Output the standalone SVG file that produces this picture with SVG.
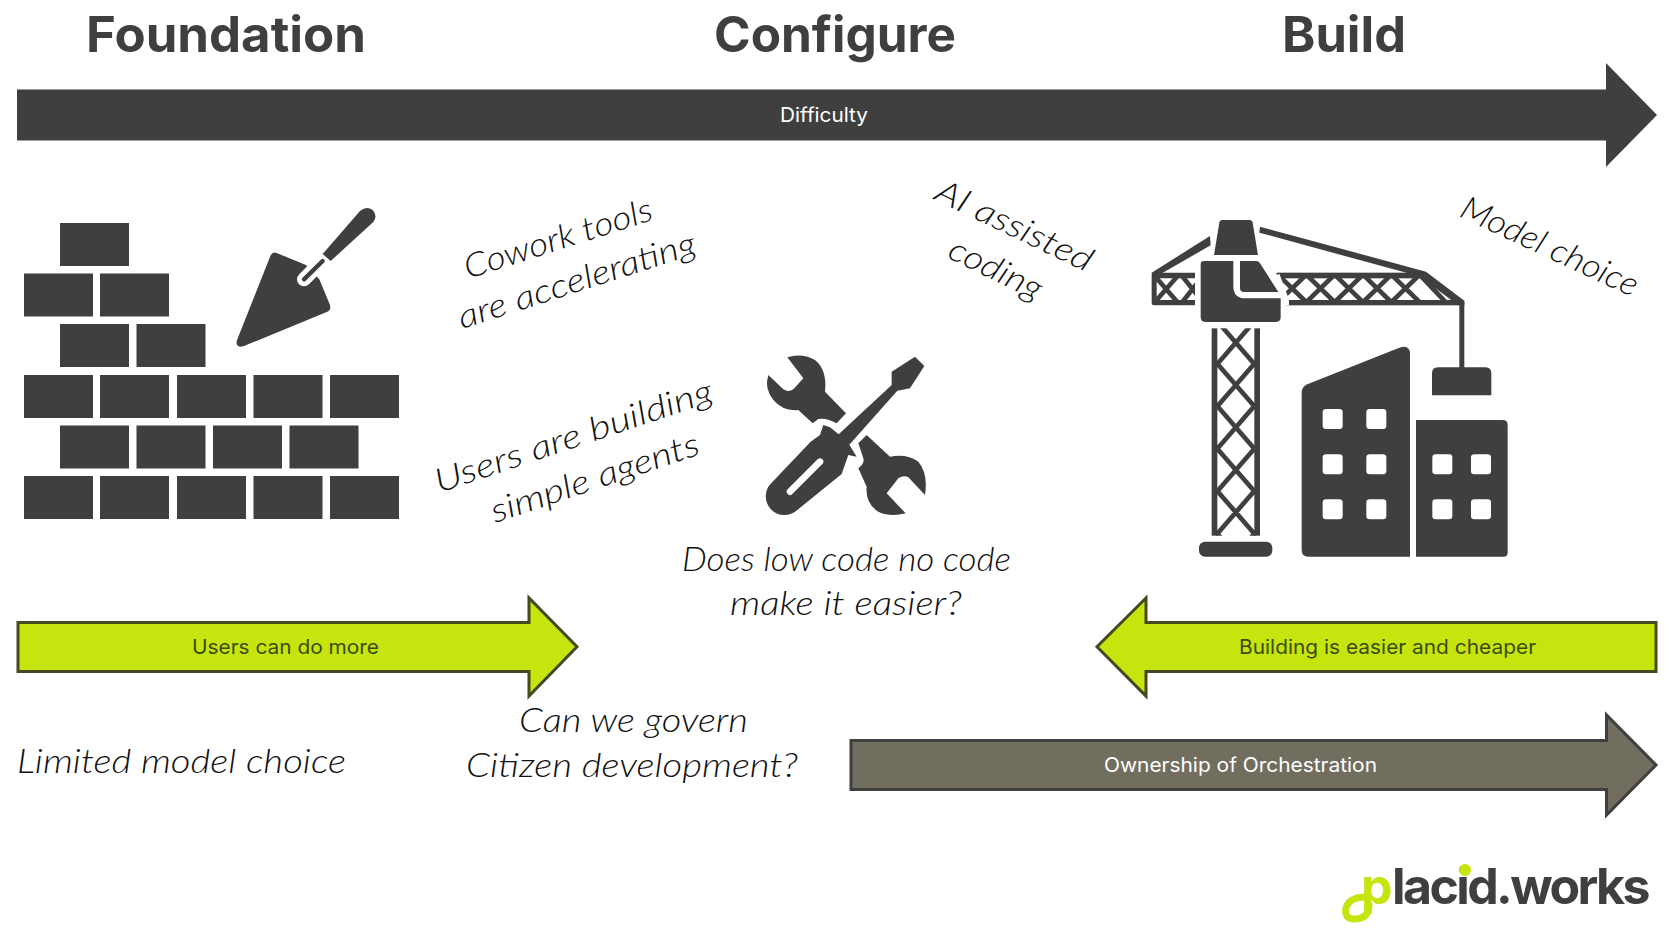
<svg xmlns="http://www.w3.org/2000/svg" width="1677" height="946" viewBox="0 0 1677 946">
<style>
.d{fill:#3f3f3f}
.w{fill:#fff}
.title{font-family:"Inter","Liberation Sans",sans-serif;font-weight:700;font-size:49px;fill:#3f3f3f}
.lab{font-family:"Inter","Liberation Sans",sans-serif;font-size:20px}
.hand{font-family:"Lato","Noto Sans",cursive;font-style:italic;font-weight:300;font-size:33px;fill:#111}
.ln{stroke:#3f3f3f;stroke-width:14;fill:none}
.arr{stroke:#45491f;stroke-width:3;stroke-linejoin:miter}
</style>
<defs>
<clipPath id="towerClip"><rect x="245" y="415" width="145" height="622"/></clipPath>
<clipPath id="jibClip"><path d="M440,250H885L1003,340H470Z"/></clipPath>
<clipPath id="ctrClip"><rect x="65" y="250" width="130" height="95"/></clipPath>
</defs>
<rect width="1677" height="946" fill="#fff"/>

<g id="titles">
<text class="title" x="86" y="51.5" textLength="280" lengthAdjust="spacingAndGlyphs">Foundation</text>
<text class="title" x="714" y="51.5" textLength="242" lengthAdjust="spacingAndGlyphs">Configure</text>
<text class="title" x="1282" y="51.5" textLength="124" lengthAdjust="spacingAndGlyphs">Build</text>
</g>

<g id="connectors">
<g id="arrow-difficulty">
<path class="d" d="M17,89.5H1606V63L1657,115L1606,167V140.5H17Z"/>
<text class="lab" x="780" y="121.5" fill="#fff" textLength="88" lengthAdjust="spacingAndGlyphs">Difficulty</text>
</g>
<g id="arrow-users">
<path class="arr" fill="#c6e50f" d="M18,622.5H529V598L577,646.7L529,696V671.5H18Z"/>
<text class="lab" x="192" y="654" fill="#3d4a12" textLength="187" lengthAdjust="spacingAndGlyphs">Users can do more</text>
</g>
<g id="arrow-building">
<path class="arr" fill="#c6e50f" d="M1656,622.5H1146V598L1097,646.7L1146,696V671.5H1656Z"/>
<text class="lab" x="1239" y="654" fill="#3d4a12" textLength="297" lengthAdjust="spacingAndGlyphs">Building is easier and cheaper</text>
</g>
<g id="arrow-ownership">
<path d="M851,740.5H1606.5V715L1656,765L1606.5,815V789.5H851Z" fill="#716e5f" stroke="#3f3f3f" stroke-width="3"/>
<text class="lab" x="1104" y="772" fill="#fff" textLength="273" lengthAdjust="spacingAndGlyphs">Ownership of Orchestration</text>
</g>
</g>

<g id="bricks-trowel">
<g class="d">
<rect x="60" y="223" width="69" height="43"/>
<rect x="24" y="273.5" width="69" height="43"/><rect x="100" y="273.5" width="69" height="43"/>
<rect x="60" y="324" width="69" height="43"/><rect x="136.5" y="324" width="69" height="43"/>
<rect x="24" y="375" width="69" height="43"/><rect x="100" y="375" width="69" height="43"/><rect x="177" y="375" width="69" height="43"/><rect x="253.5" y="375" width="69" height="43"/><rect x="330" y="375" width="69" height="43"/>
<rect x="60" y="425.5" width="69" height="43"/><rect x="136.5" y="425.5" width="69" height="43"/><rect x="213" y="425.5" width="69" height="43"/><rect x="289.5" y="425.5" width="69" height="43"/>
<rect x="24" y="476" width="69" height="43"/><rect x="100" y="476" width="69" height="43"/><rect x="177" y="476" width="69" height="43"/><rect x="253.5" y="476" width="69" height="43"/><rect x="330" y="476" width="69" height="43"/>
</g>
<g transform="translate(0,180) scale(.33333)">
<path class="d" d="M812,226Q818,214 830,219L918,255L958,298L990,375Q994,390 982,395L732,498Q716,504 711,494Q708,486 712,478Z"/>
<path d="M912,298L975,235" stroke="#fff" stroke-width="42" stroke-linecap="round" fill="none"/>
<path d="M912,298L968,243" stroke="#3f3f3f" stroke-width="13" stroke-linecap="round" fill="none"/>
<path class="d" d="M968,222L1080,93Q1100,76 1118,90Q1134,108 1120,126L992,243Z"/>
</g>
</g>

<g id="tools" transform="translate(740,340) scale(.33333)">
<path class="d" d="M85,105L130,148Q145,158 160,148L190,115L142,52Q185,38 225,60Q262,90 255,155L318,220L290,250Q260,232 235,237L218,250L175,210Q130,215 100,180Q72,145 85,105Z"/>
<path class="d" d="M380,285L450,350Q500,340 535,365Q565,400 555,465L505,412Q490,405 475,415L440,460L497,520Q450,532 415,515Q375,490 380,440L355,385Q375,370 370,355L355,310Z"/>
<path class="d" d="M212,305L240,285L250,255L270,262L296,283L455,135L455,95L525,50L553,78L510,145L472,152L328,314L350,350L325,345L305,402L172,510A54,54 0 0 1 95,428Z" stroke="#fff" stroke-width="14" paint-order="stroke" stroke-linejoin="round"/>
<path d="M150,455L240,365" stroke="#fff" stroke-width="20" stroke-linecap="round" fill="none"/>
</g>

<g id="crane" transform="translate(1130,190) scale(.33333)">
<path class="d" d="M240,138L242,166L92,252H65V248Z"/>
<path class="d" d="M390,110L888,245L1003,332V346H985L880,268L835,250L388,128Z"/>
<g class="d">
<path d="M70,248H195V265H80V330H195V346H72Q65,346 65,339V254Q65,248 70,248Z"/>
<rect x="440" y="248" width="445" height="17"/>
<rect x="470" y="330" width="530" height="16"/>
</g>
<g clip-path="url(#jibClip)">
<path class="ln" d="M440,250L543,350M525,250L628,350M610,250L713,350M695,250L798,350M780,250L883,350M865,250L960,350M430,350L533,250M515,350L618,250M600,350L703,250M685,350L788,250M770,350L873,250"/>
</g>
<g clip-path="url(#ctrClip)">
<path class="ln" d="M80,265L150,345M150,250L80,330M150,250L225,345M150,345L225,250"/>
</g>
<path class="d" d="M222,213H310V288Q310,325 345,325H452V382Q452,396 438,396H226Q212,396 212,382V223Q212,213 222,213Z"/>
<path d="M392,222L452,312" stroke="#fff" stroke-width="10" fill="none"/>
<path d="M440,255L468,330V345" stroke="#fff" stroke-width="18" fill="none"/>
<path class="d" d="M330,213H378Q386,213 390,220L445,306H342Q330,306 330,294Z"/>
<path class="d" d="M268,98Q269,90 277,90H358Q367,90 368,98L384,195H252Z"/>
<g>
<rect class="d" x="245" y="415" width="17" height="622"/>
<rect class="d" x="373" y="415" width="17" height="622"/>
<g clip-path="url(#towerClip)">
<path class="ln" d="M262,394L373,522M373,394L262,522M262,521L373,649M373,521L262,649M262,648L373,776M373,648L262,776M262,776L373,904M373,776L262,904M262,903L373,1031M373,903L262,1031M262,1031L300,1075M373,1031L335,1075"/>
</g>
</g>
<rect class="d" x="207" y="1055" width="220" height="45" rx="18"/>
<path class="d" d="M515,608Q515,590 532,583L808,473Q838,462 840,490V1100H535Q515,1100 515,1080Z"/>
<path class="d" d="M858,690H1118Q1133,690 1133,705V1088Q1133,1100 1120,1100H858Z"/>
<g class="w">
<rect x="578" y="657" width="60" height="60" rx="10"/><rect x="709" y="657" width="60" height="60" rx="10"/>
<rect x="578" y="793" width="60" height="60" rx="10"/><rect x="709" y="793" width="60" height="60" rx="10"/>
<rect x="578" y="928" width="60" height="60" rx="10"/><rect x="709" y="928" width="60" height="60" rx="10"/>
<rect x="907" y="793" width="60" height="60" rx="10"/><rect x="1023" y="793" width="60" height="60" rx="10"/>
<rect x="907" y="928" width="60" height="60" rx="10"/><rect x="1023" y="928" width="60" height="60" rx="10"/>
</g>
<rect class="d" x="988" y="335" width="15" height="205"/>
<path class="d" d="M906,550Q906,532 924,532H1066Q1084,532 1084,550V616H906Z"/>
</g>

<g id="handwriting">
<text class="hand" transform="translate(468,279) rotate(-17.7)" textLength="196" lengthAdjust="spacingAndGlyphs">Cowork tools</text>
<text class="hand" transform="translate(462,329) rotate(-17.8)" textLength="248" lengthAdjust="spacingAndGlyphs">are accelerating</text>
<text class="hand" transform="translate(439,493) rotate(-18.5)" textLength="291" lengthAdjust="spacingAndGlyphs">Users are building</text>
<text class="hand" transform="translate(495,523) rotate(-18.5)" textLength="218" lengthAdjust="spacingAndGlyphs">simple agents</text>
<text class="hand" transform="translate(933,199) rotate(25.5)" textLength="170" lengthAdjust="spacingAndGlyphs">AI assisted</text>
<text class="hand" transform="translate(946,257) rotate(26)" textLength="100" lengthAdjust="spacingAndGlyphs">coding</text>
<text class="hand" transform="translate(1458,216) rotate(25)" textLength="192" lengthAdjust="spacingAndGlyphs">Model choice</text>
<text class="hand" x="682" y="571" textLength="329" lengthAdjust="spacingAndGlyphs">Does low code no code</text>
<text class="hand" x="730" y="615" textLength="232" lengthAdjust="spacingAndGlyphs">make it easier?</text>
<text class="hand" x="17" y="773" textLength="329" lengthAdjust="spacingAndGlyphs">Limited model choice</text>
<text class="hand" x="519" y="731.5" textLength="229" lengthAdjust="spacingAndGlyphs">Can we govern</text>
<text class="hand" x="466" y="776.5" textLength="332" lengthAdjust="spacingAndGlyphs">Citizen development?</text>
</g>

<g id="logo">
<path d="M1369,903Q1370,919 1354,919Q1344,919 1346,908Q1349,897 1366,897" fill="none" stroke="#c6e50f" stroke-width="7"/>
<text x="1361" y="904" style="font-family:'Inter','Liberation Sans',sans-serif;font-weight:700;font-size:50px;letter-spacing:-2.6px" fill="#3f3f3f"><tspan fill="#c6e50f">p</tspan><tspan x="1392">lacid.works</tspan></text>
<circle cx="1465" cy="870" r="6" fill="#c6e50f"/>
</g>
</svg>
